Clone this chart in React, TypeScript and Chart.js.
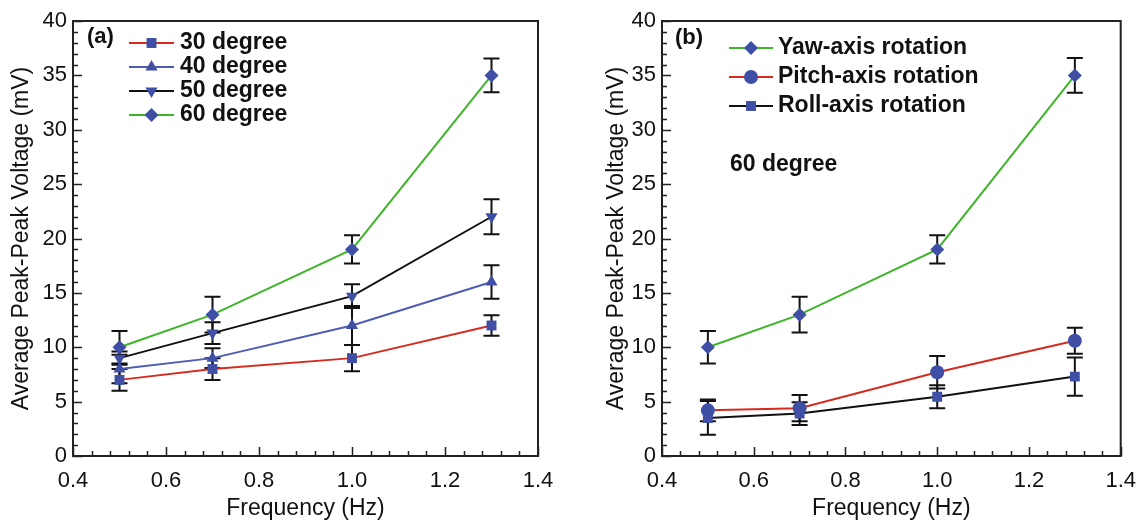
import React, { useEffect, useRef } from 'react';
import { Chart, registerables } from 'chart.js';
import { drawPoint } from 'chart.js/helpers';

Chart.register(...registerables);

const FONT = '"Liberation Sans", Arial, Helvetica, sans-serif';

// Frequencies (Hz)
const freq = [0.5, 0.7, 1.0, 1.3];

// Panel (a): average peak-peak voltage (mV) by tilt angle
const deg30 = [7, 8, 9, 12];
const err30 = [1.0, 1.0, 1.2, 0.95];
const deg40 = [8, 9, 12, 16];
const err40 = [1.3, 0.9, 1.8, 1.55];
const deg50 = [9, 11.3, 14.7, 22];
const err50 = [0.6, 1.0, 1.1, 1.6];
const deg60 = [10, 13, 19, 35];
const err60 = [1.5, 1.65, 1.3, 1.55];

// Panel (b): 60 degree, by rotation axis
const yaw = [10, 13, 19, 35];
const errYaw = [1.5, 1.65, 1.3, 1.6];
const pitch = [4.2, 4.4, 7.7, 10.6];
const errPitch = [1.0, 1.2, 1.5, 1.2];
const roll = [3.5, 3.9, 5.45, 7.3];
const errRoll = [1.55, 1.05, 1.05, 1.75];

// Axis ranges / ticks
const xMin = 0.4, xMax = 1.4, xStep = 0.2, xMinorStep = 0.04;
const yMin = 0, yMax = 40, yStep = 5, yMinorStep = 1;

const MARKER = '#3f4fa6';

type Series = {
  label: string;
  values: number[];
  errs: number[];
  color: string;
  style: string;
  rotation?: number;
};

const seriesA: Series[] = [
  { label: '30 degree', values: deg30, errs: err30, color: '#d42b1f', style: 'rect' },
  { label: '40 degree', values: deg40, errs: err40, color: '#4d5db4', style: 'triangle' },
  { label: '50 degree', values: deg50, errs: err50, color: '#111111', style: 'triangle', rotation: 180 },
  { label: '60 degree', values: deg60, errs: err60, color: '#3fb52a', style: 'rectRot' },
];

const seriesB: Series[] = [
  { label: 'Yaw-axis rotation', values: yaw, errs: errYaw, color: '#3fb52a', style: 'rectRot' },
  { label: 'Pitch-axis rotation', values: pitch, errs: errPitch, color: '#d42b1f', style: 'circle' },
  { label: 'Roll-axis rotation', values: roll, errs: errRoll, color: '#111111', style: 'rect' },
];

type PanelCfg = {
  series: Series[];
  padRight: number;
  yWidth: number;
  yTitlePad: number;
  tag: string;
  tagX: number;
  tagY: number;
  legX1: number;
  legX2: number;
  legTextX: number;
  legRows: number[];
  note?: { text: string; x: number; y: number };
};

function makeChart(canvas: HTMLCanvasElement, cfg: PanelCfg) {
  const datasets = cfg.series.map((s) => ({
    label: s.label,
    data: freq.map((x, i) => ({ x, y: s.values[i] })),
    err: s.errs,
    borderColor: s.color,
    borderWidth: 2,
    backgroundColor: MARKER,
    pointBackgroundColor: MARKER,
    pointBorderColor: MARKER,
    pointBorderWidth: 0,
    pointStyle: s.style,
    pointRotation: s.rotation || 0,
    pointRadius: 7,
    tension: 0,
    fill: false,
  }));

  const framePlugin = {
    id: 'frameTicks',
    beforeDatasetsDraw(chart: any) {
      const ctx = chart.ctx;
      const xs = chart.scales.x;
      const ys = chart.scales.y;
      const { left, right, top, bottom } = chart.chartArea;
      ctx.save();
      ctx.strokeStyle = '#222';
      ctx.lineWidth = 1.5;
      ctx.beginPath();
      const nx = Math.round((xMax - xMin) / xMinorStep);
      for (let i = 0; i <= nx; i++) {
        const v = xMin + i * xMinorStep;
        const px = Math.round(xs.getPixelForValue(v)) + 0.5;
        const len = i % 5 === 0 ? 9 : 5;
        ctx.moveTo(px, bottom);
        ctx.lineTo(px, bottom - len);
      }
      const ny = Math.round((yMax - yMin) / yMinorStep);
      for (let i = 0; i <= ny; i++) {
        const v = yMin + i * yMinorStep;
        const py = Math.round(ys.getPixelForValue(v)) + 0.5;
        const len = i % 5 === 0 ? 9 : 5;
        ctx.moveTo(left, py);
        ctx.lineTo(left + len, py);
      }
      ctx.stroke();
      ctx.lineWidth = 2;
      ctx.strokeRect(left, top, right - left, bottom - top);

      // error bars
      ctx.strokeStyle = '#111';
      ctx.lineWidth = 2;
      chart.data.datasets.forEach((ds: any) => {
        ds.data.forEach((p: any, i: number) => {
          const e = ds.err[i];
          const px = xs.getPixelForValue(p.x);
          const t = ys.getPixelForValue(p.y + e);
          const b = ys.getPixelForValue(p.y - e);
          ctx.beginPath();
          ctx.moveTo(px, t);
          ctx.lineTo(px, b);
          ctx.moveTo(px - 8, t);
          ctx.lineTo(px + 8, t);
          ctx.moveTo(px - 8, b);
          ctx.lineTo(px + 8, b);
          ctx.stroke();
        });
      });
      ctx.restore();
    },
    afterDraw(chart: any) {
      const ctx = chart.ctx;
      ctx.save();
      ctx.fillStyle = '#111';
      ctx.textBaseline = 'middle';
      ctx.textAlign = 'left';
      ctx.font = `bold 22px ${FONT}`;
      ctx.fillText(cfg.tag, cfg.tagX, cfg.tagY);
      ctx.font = `bold 23px ${FONT}`;
      cfg.series.forEach((s, i) => {
        const y = cfg.legRows[i];
        ctx.strokeStyle = s.color;
        ctx.lineWidth = 2;
        ctx.beginPath();
        ctx.moveTo(cfg.legX1, y);
        ctx.lineTo(cfg.legX2, y);
        ctx.stroke();
        ctx.fillStyle = MARKER;
        ctx.strokeStyle = MARKER;
        drawPoint(ctx, { pointStyle: s.style as any, rotation: s.rotation || 0, radius: 7, borderWidth: 0 }, (cfg.legX1 + cfg.legX2) / 2, y);
        ctx.fillStyle = '#111';
        ctx.fillText(s.label, cfg.legTextX, y);
      });
      if (cfg.note) {
        ctx.fillText(cfg.note.text, cfg.note.x, cfg.note.y);
      }
      ctx.restore();
    },
  };

  return new Chart(canvas, {
    type: 'line',
    data: { datasets: datasets as any },
    plugins: [framePlugin],
    options: {
      responsive: false,
      animation: false,
      devicePixelRatio: 1,
      layout: { padding: { left: 0, right: cfg.padRight, top: 21, bottom: 0 } },
      plugins: { legend: { display: false }, tooltip: { enabled: false } },
      scales: {
        x: {
          type: 'linear',
          min: xMin,
          max: xMax,
          ticks: {
            stepSize: xStep,
            autoSkip: false,
            maxRotation: 0,
            padding: 12,
            color: '#111',
            font: { family: FONT, size: 22 },
            callback: (v: any) => Number(v).toFixed(1),
          },
          grid: { display: false, drawTicks: false },
          border: { display: false },
          title: {
            display: true,
            text: 'Frequency (Hz)',
            color: '#111',
            font: { family: FONT, size: 23 },
            padding: { top: 0, bottom: 3 },
          },
          afterFit: (s: any) => {
            s.height = 69;
          },
        },
        y: {
          type: 'linear',
          min: yMin,
          max: yMax,
          ticks: {
            stepSize: yStep,
            padding: 6,
            color: '#111',
            font: { family: FONT, size: 22 },
          },
          grid: { display: false, drawTicks: false },
          border: { display: false },
          title: {
            display: true,
            text: 'Average Peak-Peak Voltage (mV)',
            color: '#111',
            font: { family: FONT, size: 23 },
            padding: { top: cfg.yTitlePad, bottom: 0 },
          },
          afterFit: (s: any) => {
            s.width = cfg.yWidth;
          },
        },
      },
    } as any,
  });
}

const cfgA: PanelCfg = {
  series: seriesA,
  padRight: 36,
  yWidth: 73,
  yTitlePad: 8,
  tag: '(a)',
  tagX: 87,
  tagY: 37,
  legX1: 129,
  legX2: 174,
  legTextX: 180,
  legRows: [43, 67, 91, 115],
};

const cfgB: PanelCfg = {
  series: seriesB,
  padRight: 20,
  yWidth: 88,
  yTitlePad: 29,
  tag: '(b)',
  tagX: 101,
  tagY: 38,
  legX1: 155,
  legX2: 199,
  legTextX: 204,
  legRows: [48, 77, 106],
  note: { text: '60 degree', x: 156, y: 165 },
};

function Panel({ cfg, left }: { cfg: PanelCfg; left: number }) {
  const ref = useRef<HTMLCanvasElement | null>(null);
  useEffect(() => {
    if (!ref.current) return;
    const chart = makeChart(ref.current, cfg);
    return () => chart.destroy();
  }, [cfg]);
  return (
    <div style={{ position: 'absolute', left, top: 0, width: 574, height: 525 }}>
      <canvas ref={ref} width={574} height={525} style={{ width: 574, height: 525, display: 'block' }} />
    </div>
  );
}

export default function App() {
  return (
    <div style={{ position: 'absolute', left: 0, top: 0, width: 1148, height: 525, background: '#fff' }}>
      <Panel cfg={cfgA} left={0} />
      <Panel cfg={cfgB} left={574} />
    </div>
  );
}
